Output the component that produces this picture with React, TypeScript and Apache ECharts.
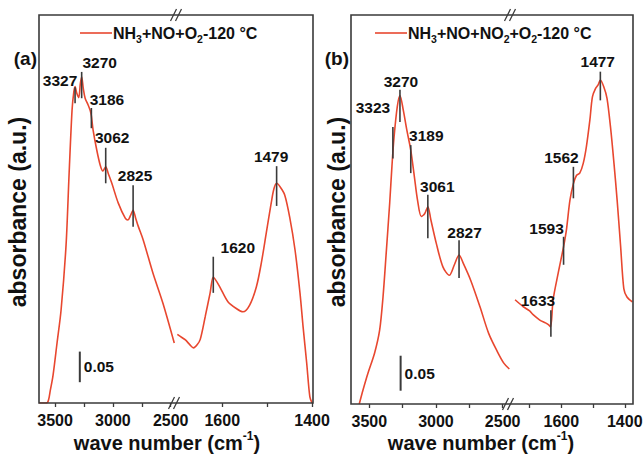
import React, { useEffect, useRef } from "react";
import * as echarts from "echarts";

// ---------------- data ----------------
// Panel (a): NH3+NO+O2 at 120 °C  [wavenumber cm-1, absorbance a.u.]
const spectrumA_high: number[][] = [
  [3639, 0.0], [3600, 0.0], [3565, 0.001], [3540, 0.022], [3517, 0.046], [3483, 0.098],
  [3448, 0.152], [3405, 0.258], [3379, 0.373], [3353, 0.479], [3338, 0.508], [3327, 0.517],
  [3312, 0.506], [3295, 0.499], [3282, 0.521], [3270, 0.533], [3256, 0.514], [3240, 0.498],
  [3214, 0.487], [3196, 0.478], [3186, 0.469], [3171, 0.446], [3139, 0.413], [3110, 0.389],
  [3087, 0.379], [3062, 0.386], [3040, 0.375], [3009, 0.359], [2954, 0.327], [2893, 0.302],
  [2870, 0.299], [2848, 0.306], [2825, 0.315], [2803, 0.302], [2781, 0.289], [2737, 0.266],
  [2653, 0.212], [2567, 0.163], [2469, 0.098],
];
const spectrumA_low: number[][] = [
  [1700, 0.112], [1690, 0.107], [1682, 0.103], [1672, 0.095], [1664, 0.09], [1656, 0.095],
  [1649, 0.104], [1638, 0.141], [1627, 0.18], [1620, 0.206], [1612, 0.198], [1605, 0.189],
  [1587, 0.165], [1568, 0.154], [1554, 0.149], [1539, 0.16], [1524, 0.19], [1513, 0.229],
  [1502, 0.278], [1491, 0.327], [1485, 0.35], [1479, 0.359], [1471, 0.353], [1461, 0.34],
  [1450, 0.304], [1438, 0.25], [1427, 0.18], [1420, 0.124], [1412, 0.065], [1405, 0.01],
  [1400, 0.0],
];
// Panel (b): NH3+NO+NO2+O2 at 120 °C
const spectrumB_high: number[][] = [
  [3575, 0.0], [3547, 0.02], [3510, 0.044], [3460, 0.073], [3422, 0.106], [3397, 0.153],
  [3373, 0.216], [3347, 0.287], [3330, 0.34], [3315, 0.38], [3290, 0.425], [3270, 0.441],
  [3245, 0.42], [3218, 0.391], [3189, 0.363], [3162, 0.325], [3138, 0.291], [3110, 0.268],
  [3085, 0.272], [3061, 0.282], [3038, 0.263], [2998, 0.23], [2948, 0.196], [2900, 0.184],
  [2862, 0.199], [2827, 0.213], [2795, 0.201], [2740, 0.177], [2670, 0.139], [2605, 0.101],
  [2540, 0.075], [2490, 0.058], [2450, 0.05],
];
const spectrumB_low: number[][] = [
  [1746, 0.149], [1720, 0.139], [1700, 0.133], [1690, 0.128], [1668, 0.12], [1650, 0.116],
  [1640, 0.113], [1634, 0.11], [1626, 0.149], [1610, 0.187], [1593, 0.225], [1584, 0.249],
  [1573, 0.291], [1562, 0.315], [1552, 0.327], [1542, 0.33], [1531, 0.344], [1521, 0.368],
  [1510, 0.406], [1502, 0.439], [1492, 0.451], [1484, 0.456], [1477, 0.463], [1466, 0.453],
  [1456, 0.437], [1445, 0.396], [1434, 0.344], [1424, 0.291], [1413, 0.225], [1403, 0.165],
  [1393, 0.153], [1376, 0.146],
];

// peak assignments: wavenumber, marker bottom, marker top
const peaksA_wn = [3327, 3270, 3186, 3062, 2825, 1620, 1479];
const peaksA_lo = [0.49, 0.498, 0.449, 0.359, 0.288, 0.18, 0.322];
const peaksA_hi = [0.516, 0.541, 0.482, 0.417, 0.356, 0.239, 0.387];
const peaksB_wn = [3323, 3270, 3189, 3061, 2827, 1633, 1593, 1562, 1477];
const peaksB_lo = [0.351, 0.403, 0.33, 0.237, 0.18, 0.096, 0.199, 0.294, 0.434];
const peaksB_hi = [0.396, 0.449, 0.37, 0.299, 0.234, 0.134, 0.239, 0.339, 0.475];

// scale bar (0.05 a.u.): [wavenumber, bottom, top]
const scaleBarA = [3286, 0.034, 0.084];
const scaleBarB = [3265, 0.019, 0.069];
const scaleBarText = "0.05";

// axis ticks
const ticksHigh = [3500, 3250, 3000, 2750, 2500];
const labelsHigh = [3500, 3000, 2500];
const ticksLowA = [1600, 1500, 1400];
const ticksLowB = [1700, 1600, 1500, 1400];
const labelsLow = [1600, 1400];

const legendA = [["NH", 0], ["3", 1], ["+NO+O", 0], ["2", 1], ["-120 °C", 0]];
const legendB = [["NH", 0], ["3", 1], ["+NO+NO", 0], ["2", 1], ["+O", 0], ["2", 1], ["-120 °C", 0]];

// ---------------- layout / style ----------------
const W = 643;
const H = 454;
const FF = '"Liberation Sans", Arial, sans-serif';
const RED = "#e8472f";
const MARK = "#3a3a3a";
const TXT = "#111";
const PA = { left: 39, mid: 176, right: 313, top: 15, bottom: 403, yMax: 0.634, hi: [2454, 3639], lo: [1398, 1703] };
const PB = { left: 351, mid: 510, right: 633, top: 15, bottom: 404, yMax: 0.556, hi: [2445, 3637], lo: [1374, 1762] };
// label offsets (px) relative to top of each marker
const offsA = [[-15, -7], [18, -9], [15.5, -9], [6.5, -10], [2, -10], [24.5, -9], [-5.5, -10]];
const offsB = [[-20, -19], [1, -8], [15.5, -10], [9.5, -8], [5.5, -8], [-13, -10], [-17, -8], [-12, -9], [-2.6, -10]];

function richText(parts: (string | number)[][]) {
  return parts.map(([t, s]) => (s ? `{s|${t}}` : `{m|${t}}`)).join("");
}

function peakSeries(grid: number, wns: number[], lo: number[], hi: number[], offs: number[][], high: boolean) {
  const data: number[][] = [];
  wns.forEach((w, i) => {
    if ((w > 2000) === high) data.push([w, lo[i], hi[i], i]);
  });
  return {
    type: "custom",
    xAxisIndex: grid,
    yAxisIndex: grid,
    silent: true,
    clip: false,
    z: 5,
    data,
    renderItem: (_p: any, api: any) => {
      const w = api.value(0);
      const p1 = api.coord([w, api.value(1)]);
      const p2 = api.coord([w, api.value(2)]);
      const [dx, dy] = offs[api.value(3)];
      return {
        type: "group",
        children: [
          { type: "line", shape: { x1: p1[0], y1: p1[1], x2: p2[0], y2: p2[1] }, style: { stroke: MARK, lineWidth: 1.6 } },
          {
            type: "text",
            x: p2[0] + dx,
            y: p2[1] + dy,
            style: { text: String(w), fill: TXT, font: `bold 15.5px ${FF}`, align: "center", verticalAlign: "middle" },
          },
        ],
      };
    },
  };
}

function scaleSeries(grid: number, bar: number[]) {
  return {
    type: "custom",
    xAxisIndex: grid,
    yAxisIndex: grid,
    silent: true,
    clip: false,
    z: 5,
    data: [bar],
    renderItem: (_p: any, api: any) => {
      const p1 = api.coord([api.value(0), api.value(1)]);
      const p2 = api.coord([api.value(0), api.value(2)]);
      return {
        type: "group",
        children: [
          { type: "line", shape: { x1: p1[0], y1: p1[1], x2: p2[0], y2: p2[1] }, style: { stroke: MARK, lineWidth: 2 } },
          {
            type: "text",
            x: p1[0] + 4,
            y: (p1[1] + p2[1]) / 2,
            style: { text: scaleBarText, fill: TXT, font: `bold 15.5px ${FF}`, align: "left", verticalAlign: "middle" },
          },
        ],
      };
    },
  };
}

function xAxis(grid: number, range: number[], ticks: number[], labels: number[]) {
  return {
    type: "value",
    gridIndex: grid,
    min: range[0],
    max: range[1],
    inverse: true,
    axisLine: { show: false },
    splitLine: { show: false },
    axisTick: { show: true, inside: false, length: 4, customValues: ticks, lineStyle: { color: MARK, width: 1.3 } },
    axisLabel: {
      customValues: labels,
      formatter: (v: number) => String(v),
      margin: 9,
      color: TXT,
      fontSize: 16,
      fontWeight: "bold",
      fontFamily: FF,
      hideOverlap: false,
    },
  };
}

function breakMarks(x: number, y: number) {
  return [-2.5, 2.5].map((d) => ({
    type: "line",
    z: 20,
    shape: { x1: x + d - 3, y1: y + 6, x2: x + d + 3, y2: y - 6 },
    style: { stroke: MARK, lineWidth: 1.3 },
  }));
}

function panelGraphics(P: any, legend: any[], legendX: number, tag: string, titleX: number, yTitleX: number) {
  const rich = {
    m: { font: `bold 16px ${FF}`, fill: TXT, lineHeight: 19 },
    s: { font: `bold 10.5px ${FF}`, fill: TXT, height: 7, verticalAlign: "bottom" },
  };
  return [
    {
      type: "rect",
      z: 10,
      shape: { x: P.left, y: P.top, width: P.right - P.left, height: P.bottom - P.top },
      style: { fill: "none", stroke: MARK, lineWidth: 1.6 },
    },
    ...breakMarks(P.mid, P.top),
    ...breakMarks(P.mid - 2, P.bottom),
    { type: "line", z: 20, shape: { x1: legendX - 33, y1: 33, x2: legendX - 1, y2: 33 }, style: { stroke: RED, lineWidth: 1.6 } },
    {
      type: "text",
      z: 20,
      x: legendX,
      y: 33,
      style: { text: richText(legend), rich, verticalAlign: "middle", align: "left" },
    },
    {
      type: "text",
      z: 20,
      x: P.left - 2,
      y: 58,
      style: { text: tag, font: `bold 19px ${FF}`, fill: TXT, align: "right", verticalAlign: "middle" },
    },
    {
      type: "text",
      z: 20,
      x: titleX,
      y: 443,
      style: {
        text: "{m|wave number (cm}{p|-1}{m|)}",
        rich: {
          m: { font: `bold 20px ${FF}`, fill: TXT, lineHeight: 24 },
          p: { font: `bold 12px ${FF}`, fill: TXT, height: 9, verticalAlign: "top" },
        },
        align: "center",
        verticalAlign: "middle",
      },
    },
    {
      type: "text",
      z: 20,
      x: yTitleX,
      y: 212,
      rotation: Math.PI / 2,
      style: { text: "absorbance (a.u.)", font: `bold 23px ${FF}`, fill: TXT, align: "center", verticalAlign: "middle" },
    },
  ];
}

function gridBox(left: number, right: number, top: number, bottom: number) {
  return { left, right: W - right, top, bottom: H - bottom, outerBoundsMode: "none", containLabel: false };
}

function buildOption() {
  const grids = [
    gridBox(PA.left, PA.mid, PA.top, PA.bottom),
    gridBox(PA.mid, PA.right, PA.top, PA.bottom),
    gridBox(PB.left, PB.mid, PB.top, PB.bottom),
    gridBox(PB.mid, PB.right, PB.top, PB.bottom),
  ];
  const yAxes = [PA.yMax, PA.yMax, PB.yMax, PB.yMax].map((m, i) => ({
    type: "value",
    gridIndex: i,
    min: 0,
    max: m,
    show: false,
  }));
  const xAxes = [
    xAxis(0, PA.hi, ticksHigh, labelsHigh),
    xAxis(1, PA.lo, ticksLowA, labelsLow),
    xAxis(2, PB.hi, ticksHigh, labelsHigh),
    xAxis(3, PB.lo, ticksLowB, labelsLow),
  ];
  const lineS = (i: number, data: number[][]) => ({
    type: "line",
    xAxisIndex: i,
    yAxisIndex: i,
    data,
    showSymbol: false,
    symbol: "none",
    smooth: 0.3,
    lineStyle: { color: RED, width: 1.6 },
    z: 3,
    silent: true,
  });
  return {
    animation: false,
    backgroundColor: "#fff",
    grid: grids,
    xAxis: xAxes,
    yAxis: yAxes,
    series: [
      lineS(0, spectrumA_high),
      lineS(1, spectrumA_low),
      lineS(2, spectrumB_high),
      lineS(3, spectrumB_low),
      peakSeries(0, peaksA_wn, peaksA_lo, peaksA_hi, offsA, true),
      peakSeries(1, peaksA_wn, peaksA_lo, peaksA_hi, offsA, false),
      peakSeries(2, peaksB_wn, peaksB_lo, peaksB_hi, offsB, true),
      peakSeries(3, peaksB_wn, peaksB_lo, peaksB_hi, offsB, false),
      scaleSeries(0, scaleBarA),
      scaleSeries(2, scaleBarB),
    ],
    graphic: [
      ...panelGraphics(PA, legendA, 113, "(a)", 167, 18),
      ...panelGraphics(PB, legendB, 408, "(b)", 481, 337),
    ],
  };
}

export default function App() {
  const ref = useRef<HTMLDivElement>(null);
  useEffect(() => {
    document.body.style.margin = "0";
    const chart = echarts.init(ref.current as HTMLDivElement, null, { renderer: "svg" });
    chart.setOption(buildOption() as any);
    return () => chart.dispose();
  }, []);
  return <div ref={ref} style={{ width: W, height: H }} />;
}
